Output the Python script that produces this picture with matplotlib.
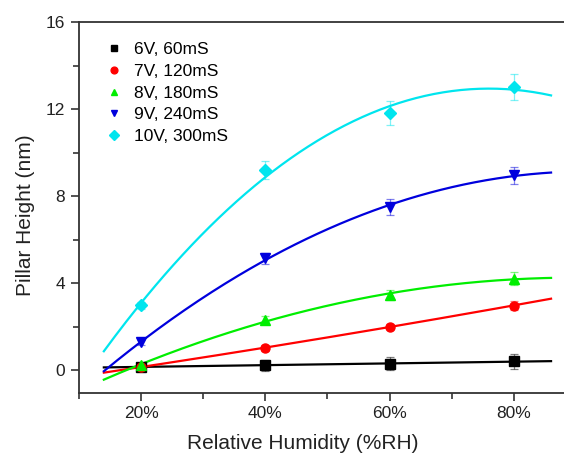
import numpy as np
import matplotlib.pyplot as plt
from matplotlib.ticker import MultipleLocator, FuncFormatter

plt.rcParams['font.family'] = ['Liberation Sans', 'DejaVu Sans']

rh = [20, 40, 60, 80]
labels = ["6V, 60mS", "7V, 120mS", "8V, 180mS", "9V, 240mS", "10V, 300mS"]
colors = ["black", "#ff0000", "#00ee00", "#0000dd", "#00e5ee"]
markers = ["s", "o", "^", "v", "D"]

h_6v = [0.16, 0.22, 0.30, 0.40]
h_7v = [0.15, 1.02, 2.00, 2.97]
h_8v = [0.25, 2.31, 3.45, 4.20]
h_9v = [1.28, 5.15, 7.50, 8.95]
h_10v = [2.98, 9.20, 11.80, 13.00]
heights = [h_6v, h_7v, h_8v, h_9v, h_10v]

err_6v = [0.12, 0.25, 0.30, 0.35]
err_7v = [0.10, 0.12, 0.12, 0.22]
err_8v = [0.10, 0.18, 0.22, 0.30]
err_9v = [0.12, 0.25, 0.35, 0.40]
err_10v = [0.15, 0.40, 0.55, 0.60]
errors = [err_6v, err_7v, err_8v, err_9v, err_10v]
fit_deg = [1, 2, 2, 2, 2]

fig = plt.figure(figsize=(5.64, 4.57), dpi=100)
ax = fig.add_axes([79 / 564, 1 - 393 / 457, 500 / 564, 371 / 457])

xs = np.linspace(14, 86, 200)
for h, e, c, m, lab, d in zip(heights, errors, colors, markers, labels, fit_deg):
    p = np.polyfit(rh, h, d)
    ax.plot(xs, np.polyval(p, xs), color=c, lw=1.6, zorder=2)
    ax.errorbar(rh, h, yerr=e, fmt="none", ecolor=c, alpha=0.5,
                elinewidth=0.9, capsize=3, capthick=0.9, zorder=3)
    ax.plot(rh, h, ls="none", marker=m, color=c, ms=6.5, label=lab, zorder=4)

ax.set_xlim(10, 90.5)
ax.set_ylim(-1.05, 16)
ax.xaxis.set_major_locator(MultipleLocator(20))
ax.xaxis.set_minor_locator(MultipleLocator(10))
ax.yaxis.set_major_locator(MultipleLocator(4))
ax.yaxis.set_minor_locator(MultipleLocator(2))
ax.xaxis.set_major_formatter(FuncFormatter(lambda v, _: f"{v:.0f}%"))
ax.tick_params(which="both", direction="out", labelsize=12.5, width=1.2,
               colors="#333333", labelcolor="#222222")
ax.tick_params(which="major", length=6)
ax.tick_params(which="minor", length=4)
ax.tick_params(axis="y", pad=4)
ax.spines["right"].set_visible(False)
for s in ["left", "bottom", "top"]:
    ax.spines[s].set_linewidth(1.3)
    ax.spines[s].set_color("#333333")
ax.set_xlabel("Relative Humidity (%RH)", fontsize=15, color="#222222")
ax.set_ylabel("Pillar Height (nm)", fontsize=15, color="#222222")
ax.xaxis.set_label_coords((303 - 79) / 500, -(434 - 393) / 371)
ax.yaxis.set_label_coords(-(79 - 35) / 500, (393 - 215) / 371)

ax.legend(loc="upper left", frameon=False, fontsize=12.5, handletextpad=0.55,
          labelspacing=0.38, handlelength=1.2, markerscale=0.75,
          borderaxespad=0, bbox_to_anchor=(0.035, 0.965))

fig.savefig("out.png", dpi=100)
